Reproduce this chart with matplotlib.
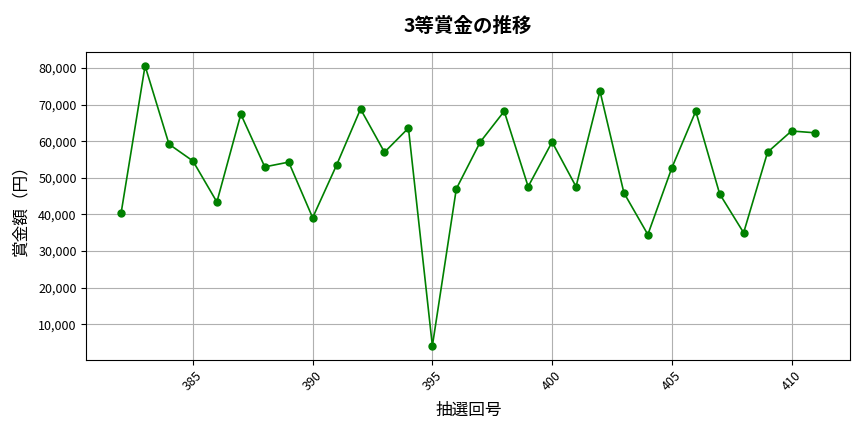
import matplotlib
matplotlib.use('Agg')
import matplotlib.pyplot as plt
from matplotlib.ticker import FuncFormatter

plt.rcParams['font.family'] = ['Noto Sans CJK JP', 'DejaVu Sans']

# 抽選回号と3等賞金（円）
draws = list(range(382, 412))
prizes = [40400, 80600, 59200, 54600, 43400, 67400, 53000, 54300, 39100, 53500,
          68800, 57000, 63600, 4100, 47000, 59800, 68200, 47600, 59800, 47600,
          73700, 45900, 34500, 52700, 68200, 45600, 35000, 57000, 62800, 62300]

fig, ax = plt.subplots(figsize=(8.64, 4.32), dpi=100)
ax.plot(draws, prizes, color='green', marker='o', markersize=5, linewidth=1.2)

ax.set_title('3等賞金の推移', fontsize=14, fontweight='bold', pad=14)
ax.set_xlabel('抽選回号', fontsize=12, labelpad=6)
ax.set_ylabel('賞金額（円）', fontsize=12, labelpad=6)
ax.yaxis.set_major_formatter(FuncFormatter(lambda v, p: f'{int(v):,}'))
ax.tick_params(axis='x', labelrotation=45, labelsize=9)
ax.tick_params(axis='y', labelsize=9)
ax.grid(True, color='#b0b0b0', linewidth=0.8)

fig.subplots_adjust(left=0.1, right=0.984, top=0.88, bottom=0.167)
fig.savefig('out.png', dpi=100)
